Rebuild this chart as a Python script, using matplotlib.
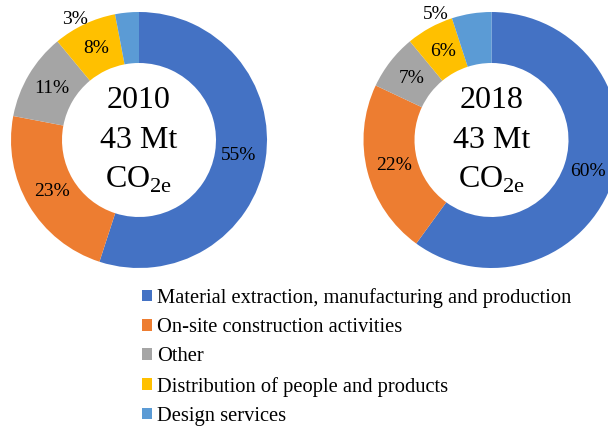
import numpy as np
import matplotlib.pyplot as plt
from matplotlib.patches import Patch

plt.rcParams['font.family'] = 'Liberation Serif'
plt.rcParams['mathtext.fontset'] = 'custom'
plt.rcParams['mathtext.rm'] = 'Liberation Serif'

categories = ['Material extraction, manufacturing and production',
              'On-site construction activities',
              'Other',
              'Distribution of people and products',
              'Design services']
colors = ['#4472C4', '#ED7D31', '#A5A5A5', '#FFC000', '#5B9BD5']

share_2010 = [55, 23, 11, 8, 3]
share_2018 = [60, 22, 7, 6, 5]
total_mt = [43, 43]
years = ['2010', '2018']

fig = plt.figure(figsize=(6.08, 4.30), dpi=100)
ax = fig.add_axes([0, 0, 1, 1])

R = 128
RING = 51


def donut(values, cx, cy, year, total, out_angle):
    wedges, _ = ax.pie(values, colors=colors, startangle=90, counterclock=False,
                       center=(cx, cy), radius=R,
                       wedgeprops=dict(width=RING, linewidth=0))
    for i, (w, v) in enumerate(zip(wedges, values)):
        if i == len(values) - 1:
            # smallest slice gets its label outside the ring
            a = np.deg2rad(out_angle)
            r = R + 9
        else:
            a = np.deg2rad((w.theta1 + w.theta2) / 2)
            r = R - 27
        ax.text(cx + r * np.cos(a), cy + r * np.sin(a), f'{v}%',
                ha='center', va='center', fontsize=14, color='black')
    ax.text(cx, cy + 39, year, ha='center', va='center', fontsize=23)
    ax.text(cx, cy, f'{total} Mt', ha='center', va='center', fontsize=23)
    ax.text(cx, cy - 40, r'CO$_{\mathrm{2e}}$', ha='center', va='center', fontsize=23)


donut(share_2010, 139, 290, years[0], total_mt[0], 118)
donut(share_2018, 491.5, 290, years[1], total_mt[1], 114)

ax.set_xlim(0, 608)
ax.set_ylim(0, 430)
ax.set_aspect('equal')
ax.axis('off')

handles = [Patch(facecolor=c, edgecolor='none') for c in colors]
fig.legend(handles, categories, loc='upper left', bbox_to_anchor=(142 / 608, 1 - 288 / 430),
           frameon=False, fontsize=14.8, handlelength=0.5, handleheight=0.5,
           handletextpad=0.25, labelspacing=0.5, borderpad=0, borderaxespad=0)

fig.savefig('out.png', dpi=100)
